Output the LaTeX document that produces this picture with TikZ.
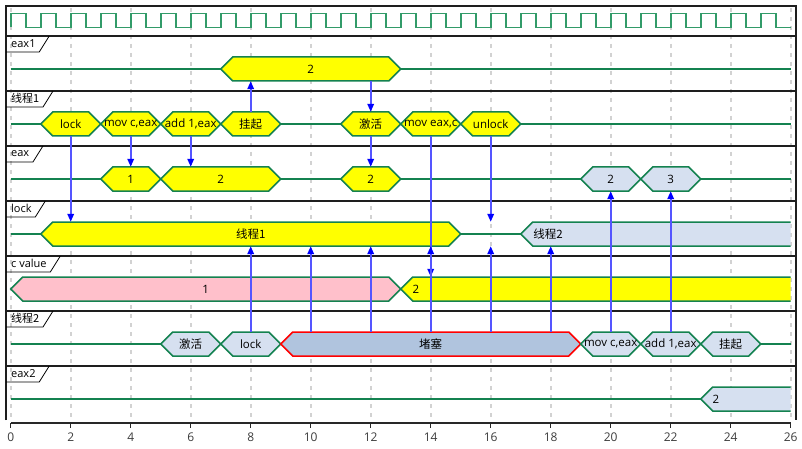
\documentclass[tikz,border=0pt]{standalone}
\usepackage{fontspec}
\setmainfont{Open Sans}
\newfontfamily\cjk{Noto Sans CJK SC}
\usetikzlibrary{arrows.meta}
\definecolor{wgreen}{RGB}{20,130,80}
\definecolor{clkgreen}{RGB}{50,155,105}
\definecolor{byellow}{RGB}{255,255,0}
\definecolor{bpink}{RGB}{255,192,203}
\definecolor{bblue}{RGB}{214,224,240}
\definecolor{bsteel}{RGB}{176,196,222}
\definecolor{arrline}{RGB}{85,85,255}
\definecolor{gridc}{RGB}{210,210,210}
\definecolor{framec}{RGB}{30,30,30}
\definecolor{axisc}{RGB}{40,40,40}
\tikzset{
  boxtxt/.style={inner sep=0pt,minimum height=24pt,font=\fontsize{11.5}{14}\selectfont,text=black},
  lbltxt/.style={inner sep=0pt,font=\fontsize{11}{13}\selectfont,text=black},
  ticklbl/.style={inner sep=0pt,font=\fontsize{12}{14}\selectfont,text={rgb,255:red,60;green,60;blue,60}},
  tabline/.style={draw=black,line width=0.8pt},
  sig/.style={draw=wgreen,line width=1.5pt},
  arr/.style={draw=arrline,line width=1.8pt,-{Triangle[length=8pt,width=6.5pt,color=blue]}},
  sepline/.style={draw=framec,line width=2pt},
  gridline/.style={draw=gridc,line width=2pt,dash pattern=on 4pt off 5pt}
}
\newcommand\hexb[7]{%
  \path[fill=#5,draw=#6,line width=1.5pt,line join=miter] ({10.7+30*#2},#4) -- ({10.7+30*#2+12},{#4-12}) -- ({10.7+30*#3-12},{#4-12}) -- ({10.7+30*#3},#4) -- ({10.7+30*#3-12},{#4+12}) -- ({10.7+30*#2+12},{#4+12}) -- cycle;
  \node[boxtxt,minimum width={30*(#3-#2)*1pt}] (#1) at ({10.7+15*(#2+#3)},#4) {#7};}
\newcommand\openb[6]{%
  \fill[#4] ({10.7+30*#2},#3) -- ({10.7+30*#2+12},{#3-12}) -- (790.7,{#3-12}) -- (790.7,{#3+12}) -- ({10.7+30*#2+12},{#3+12}) -- cycle;
  \draw[sig] (790.7,{#3-12}) -- ({10.7+30*#2+12},{#3-12}) -- ({10.7+30*#2},#3) -- ({10.7+30*#2+12},{#3+12}) -- (790.7,{#3+12});
  \coordinate (#1tip) at ({10.7+30*#2},#3);
  \node[boxtxt] (#1) at (#5,#3) {#6};}
\newcommand\rowlbl[4]{%
  \node[lbltxt,anchor=west] (#1) at (11,{#2+7.5}) {#3};
  \draw[tabline] (6,#4) -- (#1.east |- 6,#4) -- ++(3.5,0) -- ++(10,-16);}
\begin{document}
\begin{tikzpicture}[x=1pt,y=-1pt]
\useasboundingbox (0,0) rectangle (802,449);
% grid
\foreach \k in {0,2,...,26} \draw[gridline] ({10.7+30*\k},8) -- ({10.7+30*\k},420);
% frame and separators
\draw[sepline] (6,420) -- (6,6) -- (796,6) -- (796,420);
\foreach \s in {36,91,146,201,256,311,366} \draw[sepline] (6,\s) -- (796,\s);
% row labels
\rowlbl{lA}{36}{eax1}{52}
\rowlbl{lB}{91}{\cjk 线程1}{107}
\rowlbl{lC}{146}{eax}{162}
\rowlbl{lD}{201}{lock}{217}
\rowlbl{lE}{256}{c value}{272}
\rowlbl{lF}{311}{\cjk 线程2}{327}
\rowlbl{lG}{366}{eax2}{382}
% clock
\draw[draw=clkgreen,line width=1.8pt] (10.7,27.5) \foreach \k in {0,...,25}{ -- ({10.7+30*\k},13.5) -- ({25.7+30*\k},13.5) -- ({25.7+30*\k},27.5) -- ({40.7+30*\k},27.5)};
% eax1
\hexb{e1}{7}{13}{69}{byellow}{wgreen}{2}
% thread 1
\hexb{t1lock}{1}{3}{124}{byellow}{wgreen}{lock}
\hexb{t1movc}{3}{5}{124}{byellow}{wgreen}{mov c,eax}
\hexb{t1add}{5}{7}{124}{byellow}{wgreen}{add 1,eax}
\hexb{t1guaqi}{7}{9}{124}{byellow}{wgreen}{\cjk 挂起}
\hexb{t1jihuo}{11}{13}{124}{byellow}{wgreen}{\cjk 激活}
\hexb{t1moveax}{13}{15}{124}{byellow}{wgreen}{mov eax,c}
\hexb{t1unlock}{15}{17}{124}{byellow}{wgreen}{unlock}
% eax
\hexb{eaxa}{3}{5}{179}{byellow}{wgreen}{1}
\hexb{eaxb}{5}{9}{179}{byellow}{wgreen}{2}
\hexb{eaxc}{11}{13}{179}{byellow}{wgreen}{2}
\hexb{eaxd}{19}{21}{179}{bblue}{wgreen}{2}
\hexb{eaxe}{21}{23}{179}{bblue}{wgreen}{3}
% lock
\hexb{lkone}{1}{15}{234}{byellow}{wgreen}{\cjk 线程1}
\openb{lktwo}{17}{234}{bblue}{548}{\cjk 线程2}
% c value
\hexb{cvone}{0}{13}{289}{bpink}{wgreen}{1}
\openb{cvtwo}{13}{289}{byellow}{416}{2}
% thread 2
\hexb{t2jihuo}{5}{7}{344}{bblue}{wgreen}{\cjk 激活}
\hexb{t2lock}{7}{9}{344}{bblue}{wgreen}{lock}
\hexb{t2block}{9}{19}{344}{bsteel}{red}{\cjk 堵塞}
\hexb{t2movc}{19}{21}{344}{bblue}{wgreen}{mov c,eax}
\hexb{t2add}{21}{23}{344}{bblue}{wgreen}{add 1,eax}
\hexb{t2guaqi}{23}{25}{344}{bblue}{wgreen}{\cjk 挂起}
% eax2
\openb{ex2}{23}{399}{bblue}{716}{2}
% signal lines
\draw[sig] (10.7,69) -- (e1.west);
\draw[sig] (e1.east) -- (790.7,69);
\draw[sig] (10.7,124) -- (t1lock.west);
\draw[sig] (t1guaqi.east) -- (t1jihuo.west);
\draw[sig] (t1unlock.east) -- (790.7,124);
\draw[sig] (10.7,179) -- (eaxa.west);
\draw[sig] (eaxb.east) -- (eaxc.west);
\draw[sig] (eaxc.east) -- (eaxd.west);
\draw[sig] (eaxe.east) -- (790.7,179);
\draw[sig] (10.7,234) -- (lkone.west);
\draw[sig] (lkone.east) -- (lktwotip);
\draw[sig] (10.7,344) -- (t2jihuo.west);
\draw[sig] (t2guaqi.east) -- (790.7,344);
\draw[sig] (10.7,399) -- (ex2tip);
% axis
\draw[draw=axisc,line width=1.5pt] (10.7,423) -- (790.7,423);
\foreach \k in {0,2,...,26}{
  \draw[draw=axisc,line width=1.2pt] ({10.7+30*\k},423) -- ({10.7+30*\k},427.5);
  \node[ticklbl] (tick\k) at ({10.7+30*\k},437) {\k};
}
% arrows
\draw[arr] (tick8 |- t1guaqi.north) -- (tick8 |- e1.south);
\draw[arr] (tick12 |- e1.south) -- (tick12 |- t1jihuo.north);
\draw[arr] (tick2 |- t1lock.south) -- (tick2 |- lkone.north);
\draw[arr] (tick4 |- t1movc.south) -- (tick4 |- eaxa.north);
\draw[arr] (tick6 |- t1add.south) -- (tick6 |- eaxb.north);
\draw[arr] (tick12 |- t1jihuo.south) -- (tick12 |- eaxc.north);
\draw[arr] (tick14 |- t1moveax.south) -- (tick14 |- cvtwo.north);
\draw[arr] (tick16 |- t1unlock.south) -- (tick16 |- lkone.north);
\draw[arr] (tick8 |- t2lock.north) -- (tick8 |- lkone.south);
\draw[arr] (tick10 |- t2block.north) -- (tick10 |- lkone.south);
\draw[arr] (tick12 |- t2block.north) -- (tick12 |- lkone.south);
\draw[arr] (tick14 |- t2block.north) -- (tick14 |- lkone.south);
\draw[arr] (tick16 |- t2block.north) -- (tick16 |- lkone.south);
\draw[arr] (tick18 |- t2block.north) -- (tick18 |- lktwo.south);
\draw[arr] (tick20 |- t2movc.north) -- (tick20 |- eaxd.south);
\draw[arr] (tick22 |- t2add.north) -- (tick22 |- eaxe.south);
\end{tikzpicture}
\end{document}
